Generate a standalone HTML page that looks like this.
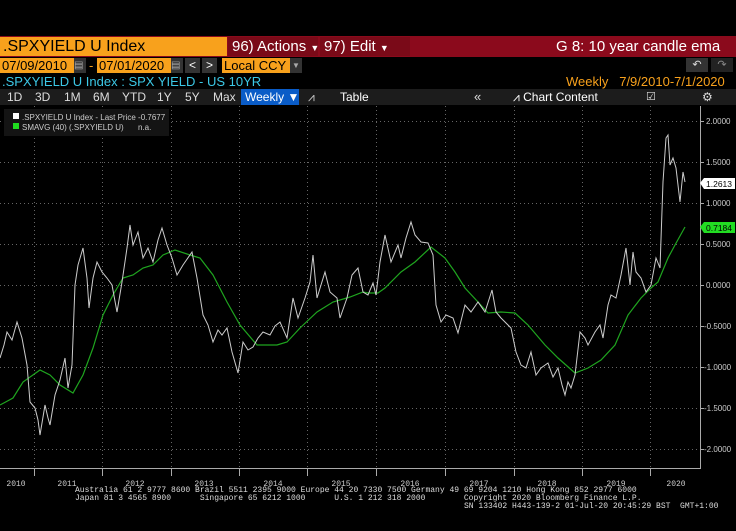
<!DOCTYPE html>
<html><head><meta charset="utf-8"><style>
body{margin:0;width:736px;height:531px;background:#000;overflow:hidden;font-family:"Liberation Sans",sans-serif;position:relative}
.a{position:absolute;white-space:nowrap}
.f{position:absolute;white-space:pre;font-family:"Liberation Mono",monospace;font-size:8px;line-height:8px;color:#ddd}
</style></head><body>
<div class="a" style="left:0;top:36px;width:736px;height:21px;background:#8b0a1c"></div>
<div class="a" style="left:0;top:37px;width:227px;height:19px;background:#f8a11c;color:#000;font-size:16px;line-height:19px;padding-left:3px;box-sizing:border-box">.SPXYIELD U Index</div>
<div class="a" style="left:228px;top:37px;width:90px;height:19px;background:#7a0a18;color:#fff;font-size:15px;line-height:19px;padding-left:4px;box-sizing:border-box">96) Actions <span style="font-size:9px">▼</span></div>
<div class="a" style="left:320px;top:37px;width:90px;height:19px;background:#7a0a18;color:#fff;font-size:15px;line-height:19px;padding-left:4px;box-sizing:border-box">97) Edit <span style="font-size:9px">▼</span></div>
<div class="a" style="left:556px;top:37px;color:#fff;font-size:15px;line-height:19px">G 8: 10 year candle ema</div>
<div class="a" style="left:0;top:58px;width:74px;height:15px;background:#f8a11c;color:#000;font-size:13px;line-height:15px;padding-left:2px;box-sizing:border-box">07/09/2010</div>
<div class="a" style="left:74px;top:58px;width:12px;height:15px;background:#333;color:#aaa;font-size:10px;line-height:15px">▤</div>
<div class="a" style="left:89px;top:58px;color:#f8a11c;font-size:13px;line-height:15px">-</div>
<div class="a" style="left:97px;top:58px;width:74px;height:15px;background:#f8a11c;color:#000;font-size:13px;line-height:15px;padding-left:2px;box-sizing:border-box">07/01/2020</div>
<div class="a" style="left:171px;top:58px;width:12px;height:15px;background:#333;color:#aaa;font-size:10px;line-height:15px">▤</div>
<div class="a" style="left:185px;top:58px;width:15px;height:15px;background:#333;color:#fff;font-size:12px;line-height:15px;text-align:center">&lt;</div>
<div class="a" style="left:202px;top:58px;width:15px;height:15px;background:#333;color:#fff;font-size:12px;line-height:15px;text-align:center">&gt;</div>
<div class="a" style="left:222px;top:58px;width:68px;height:15px;background:#f8a11c;color:#000;font-size:13px;line-height:15px;padding-left:2px;box-sizing:border-box">Local CCY</div>
<div class="a" style="left:290px;top:58px;width:12px;height:15px;background:#333;color:#aaa;font-size:8px;line-height:15px;text-align:center">▼</div>
<div class="a" style="left:686px;top:58px;width:22px;height:14px;background:#333;color:#ddd;font-size:11px;text-align:center">↶</div>
<div class="a" style="left:711px;top:58px;width:22px;height:14px;background:#222;color:#888;font-size:11px;text-align:center">↷</div>
<div class="a" style="left:2px;top:74px;color:#3cc8e6;font-size:13px;line-height:15px">.SPXYIELD U Index : SPX YIELD - US 10YR</div>
<div class="a" style="left:566px;top:74px;color:#f8a11c;font-size:13px;line-height:15px">Weekly&nbsp;&nbsp;&nbsp;7/9/2010-7/1/2020</div>
<div class="a" style="left:0;top:89px;width:736px;height:16px;background:#1c1c1c"></div>
<div class="a" style="top:89px;left:0;height:16px;font-size:12px;line-height:16px;color:#ddd">
<span class="a" style="left:7px">1D</span><span class="a" style="left:35px">3D</span><span class="a" style="left:64px">1M</span><span class="a" style="left:93px">6M</span><span class="a" style="left:122px">YTD</span><span class="a" style="left:157px">1Y</span><span class="a" style="left:185px">5Y</span><span class="a" style="left:213px">Max</span></div>
<div class="a" style="left:241px;top:89px;width:58px;height:16px;background:#0a5cc7;color:#fff;font-size:12px;line-height:16px;padding-left:4px;box-sizing:border-box">Weekly ▼</div>
<div class="a" style="left:308px;top:89px;color:#ccc;font-size:12px;line-height:16px">⩘</div>
<div class="a" style="left:340px;top:89px;color:#fff;font-size:12px;line-height:16px">Table</div>
<div class="a" style="left:474px;top:89px;color:#ddd;font-size:13px;line-height:16px">«</div>
<div class="a" style="left:513px;top:89px;color:#fff;font-size:12px;line-height:16px">⩘ Chart Content</div>
<div class="a" style="left:646px;top:89px;color:#ddd;font-size:11px;line-height:16px">☑</div>
<div class="a" style="left:702px;top:89px;color:#ddd;font-size:12px;line-height:16px">⚙</div>
<svg class="a" style="left:0;top:0" width="736" height="531">
<g stroke="#666" stroke-dasharray="1,3" stroke-width="1">
<line x1="0" x2="700" y1="121.5" y2="121.5"/><line x1="0" x2="700" y1="162.5" y2="162.5"/><line x1="0" x2="700" y1="203.5" y2="203.5"/><line x1="0" x2="700" y1="244.5" y2="244.5"/><line x1="0" x2="700" y1="285.5" y2="285.5"/><line x1="0" x2="700" y1="326.5" y2="326.5"/><line x1="0" x2="700" y1="367.5" y2="367.5"/><line x1="0" x2="700" y1="408.5" y2="408.5"/><line x1="0" x2="700" y1="449.5" y2="449.5"/>
<line x1="34.5" x2="34.5" y1="106" y2="467"/><line x1="102.5" x2="102.5" y1="106" y2="467"/><line x1="171.5" x2="171.5" y1="106" y2="467"/><line x1="239.5" x2="239.5" y1="106" y2="467"/><line x1="307.5" x2="307.5" y1="106" y2="467"/><line x1="376.5" x2="376.5" y1="106" y2="467"/><line x1="445.5" x2="445.5" y1="106" y2="467"/><line x1="514.5" x2="514.5" y1="106" y2="467"/><line x1="582.5" x2="582.5" y1="106" y2="467"/><line x1="650.5" x2="650.5" y1="106" y2="467"/>
</g>
<line x1="700.5" x2="700.5" y1="106" y2="468" stroke="#aaa"/>
<line x1="0" x2="701" y1="468.5" y2="468.5" stroke="#aaa"/>
<g stroke="#aaa">
<line x1="700" x2="704" y1="121.5" y2="121.5"/><line x1="700" x2="704" y1="162.5" y2="162.5"/><line x1="700" x2="704" y1="203.5" y2="203.5"/><line x1="700" x2="704" y1="244.5" y2="244.5"/><line x1="700" x2="704" y1="285.5" y2="285.5"/><line x1="700" x2="704" y1="326.5" y2="326.5"/><line x1="700" x2="704" y1="367.5" y2="367.5"/><line x1="700" x2="704" y1="408.5" y2="408.5"/><line x1="700" x2="704" y1="449.5" y2="449.5"/>
<line x1="34.5" x2="34.5" y1="468" y2="476"/><line x1="102.5" x2="102.5" y1="468" y2="476"/><line x1="171.5" x2="171.5" y1="468" y2="476"/><line x1="239.5" x2="239.5" y1="468" y2="476"/><line x1="307.5" x2="307.5" y1="468" y2="476"/><line x1="376.5" x2="376.5" y1="468" y2="476"/><line x1="445.5" x2="445.5" y1="468" y2="476"/><line x1="514.5" x2="514.5" y1="468" y2="476"/><line x1="582.5" x2="582.5" y1="468" y2="476"/><line x1="650.5" x2="650.5" y1="468" y2="476"/>
</g>
<g font-family="Liberation Sans,sans-serif" font-size="8" fill="#ccc">
<text x="706" y="124">2.0000</text><text x="706" y="165">1.5000</text><text x="706" y="206">1.0000</text><text x="706" y="247">0.5000</text><text x="706" y="288">0.0000</text><text x="704" y="329">-0.5000</text><text x="704" y="370">-1.0000</text><text x="704" y="411">-1.5000</text><text x="704" y="452">-2.0000</text>
</g>
<g font-family="Liberation Mono,monospace" font-size="8" fill="#ccc" text-anchor="middle">
<text x="16" y="486">2010</text><text x="67" y="486">2011</text><text x="135" y="486">2012</text><text x="204" y="486">2013</text><text x="273" y="486">2014</text><text x="341" y="486">2015</text><text x="410" y="486">2016</text><text x="479" y="486">2017</text><text x="547" y="486">2018</text><text x="616" y="486">2019</text><text x="676" y="486">2020</text>
</g>
<polyline fill="none" stroke="#1fa51f" stroke-width="1.2" points="0,405 13,398 23,382 40,370 50,375 60,385 73,393 83,375 93,348 103,315 113,295 123,278 133,275 143,268 153,265 163,255 175,250 190,255 200,258 213,275 227,302 240,325 257,345 277,345 287,342 300,328 317,312 333,302 350,297 363,292 368,293 378,293 385,288 401,272 415,262 431,247 445,258 455,272 465,288 478,302 488,313 501,312 515,313 528,325 545,345 558,358 575,373 588,368 601,360 615,345 628,315 641,298 651,288 658,282 668,258 675,245 685,227"/>
<polyline fill="none" stroke="#ccc" stroke-width="1" points="0,358 4,345 7,332 12,340 17,322 22,338 27,365 30,402 35,408 38,420 40,435 45,405 48,418 50,425 55,395 60,380 65,358 68,388 72,365 75,285 78,265 83,248 87,278 89,308 93,278 97,262 102,272 107,278 112,285 117,312 122,282 127,248 130,225 133,245 138,232 143,258 148,248 153,262 158,240 162,228 167,245 172,258 177,275 183,265 192,252 197,278 203,315 208,325 213,342 218,330 222,335 227,328 232,352 238,373 243,342 248,350 253,347 258,338 263,332 270,335 275,326 280,322 287,338 293,298 298,318 305,298 310,282 313,255 317,298 325,272 330,292 337,298 340,318 347,298 352,275 358,268 363,292 368,295 373,283 376,295 380,262 385,235 391,262 398,245 401,258 406,238 411,222 415,235 421,242 428,243 433,255 436,305 441,322 446,315 453,318 458,333 465,305 471,312 478,302 485,312 492,290 496,312 501,318 511,328 516,352 521,365 526,368 531,352 536,375 541,368 548,363 553,377 558,368 562,385 565,395 568,382 571,388 575,375 580,332 585,338 588,345 595,332 600,325 603,338 608,305 611,295 616,298 621,275 626,248 630,285 633,252 636,272 641,278 646,292 651,285 656,258 660,268 663,182 666,138 668,135 670,165 673,158 676,168 680,202 683,172 685,182"/>
<polygon points="700,183 704,178 735,178 735,189 704,189" fill="#fff"/>
<text x="706" y="187" font-family="Liberation Sans,sans-serif" font-size="8.5" fill="#000">1.2613</text>
<polygon points="700,227 704,222 735,222 735,233 704,233" fill="#22dd22"/>
<text x="706" y="231" font-family="Liberation Sans,sans-serif" font-size="8.5" fill="#000">0.7184</text>
<rect x="4" y="109" width="165" height="27" fill="#141414"/>
<rect x="13" y="113" width="6" height="6" fill="#fff"/><rect x="13" y="123" width="6" height="6" fill="#1fdc1f"/>
<text x="22" y="120" font-family="Liberation Sans,sans-serif" font-size="8" fill="#ccc">.SPXYIELD U Index - Last Price -0.7677</text>
<text x="22" y="130" font-family="Liberation Sans,sans-serif" font-size="8" fill="#ccc">SMAVG (40) (.SPXYIELD U)</text>
<text x="138" y="130" font-family="Liberation Sans,sans-serif" font-size="8" fill="#ccc">n.a.</text>
</svg>
<div class="f" style="left:75px;top:487px">Australia 61 2 9777 8600 Brazil 5511 2395 9000 Europe 44 20 7330 7500 Germany 49 69 9204 1210 Hong Kong 852 2977 6000</div>
<div class="f" style="left:75px;top:495px">Japan 81 3 4565 8900      Singapore 65 6212 1000      U.S. 1 212 318 2000        Copyright 2020 Bloomberg Finance L.P.</div>
<div class="f" style="left:464px;top:503px">SN 133402 H443-139-2 01-Jul-20 20:45:29 BST  GMT+1:00</div>
</body></html>
